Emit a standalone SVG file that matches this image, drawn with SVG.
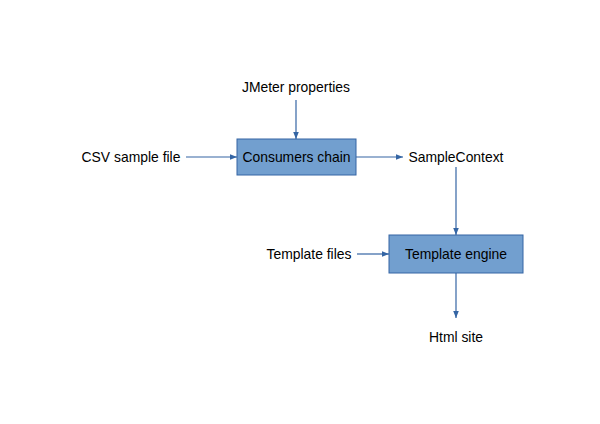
<svg xmlns="http://www.w3.org/2000/svg" width="600" height="424" viewBox="0 0 600 424">
<style>
.box{fill:#729fcf;stroke:#3465a4;stroke-width:1}
.t{font-family:"Liberation Sans",Arial,sans-serif;font-size:13.9px;fill:#000;text-anchor:middle}
.c{stroke:#3465a4;stroke-width:1.2;fill:none;marker-end:url(#ah)}
</style>
<defs>
<marker id="ah" viewBox="0 0 10 10" refX="10" refY="5" markerWidth="7" markerHeight="7" markerUnits="userSpaceOnUse" orient="auto">
<path d="M0,1 L10,5 L0,9 Z" fill="#3465a4"/>
</marker>
</defs>
<rect width="600" height="424" fill="#fff"/>
<g id="connectors">
<line class="c" x1="296" y1="100" x2="296" y2="139"/>
<line class="c" x1="186" y1="157" x2="237" y2="157"/>
<line class="c" x1="356" y1="157" x2="403" y2="157"/>
<line class="c" x1="456" y1="167" x2="456" y2="235"/>
<line class="c" x1="357" y1="254" x2="389" y2="254"/>
<line class="c" x1="456" y1="273" x2="456" y2="318"/>
</g>
<g id="jmeter"><text class="t" x="296" y="92">JMeter properties</text></g>
<g id="csv"><text class="t" x="131" y="162">CSV sample file</text></g>
<g id="consumers"><rect class="box" x="237" y="139" width="119" height="36"/><text class="t" x="296.5" y="162">Consumers chain</text></g>
<g id="samplecontext"><text class="t" x="456" y="162">SampleContext</text></g>
<g id="templatefiles"><text class="t" x="309" y="259">Template files</text></g>
<g id="engine"><rect class="box" x="389" y="235" width="134" height="38"/><text class="t" x="456" y="259">Template engine</text></g>
<g id="html"><text class="t" x="456" y="342">Html site</text></g>
</svg>
